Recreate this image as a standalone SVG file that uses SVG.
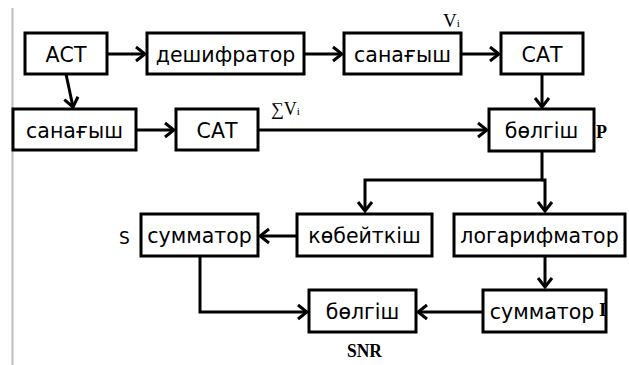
<svg xmlns="http://www.w3.org/2000/svg" width="629" height="365" viewBox="0 0 629 365">
<defs>
<style>
.box{fill:#fff;stroke:#000;stroke-width:3}
.t{font-family:"DejaVu Sans","Verdana",sans-serif;font-size:20.5px;text-anchor:middle;fill:#000}
.c{fill:none;stroke:#000;stroke-width:3}
.s{font-family:"Liberation Serif","Times New Roman",serif;fill:#000}
</style>
<marker id="a" viewBox="-12 -9 14 18" refX="0" refY="0" markerWidth="14" markerHeight="18" markerUnits="userSpaceOnUse" orient="auto">
<path d="M-9,-7 L0,0 L-9,7" fill="none" stroke="#000" stroke-width="3" stroke-linejoin="miter"/>
</marker>
</defs>
<rect width="629" height="365" fill="#fff"/>
<line x1="12.5" y1="8" x2="12.5" y2="365" stroke="#c0bcb8" stroke-width="2"/>

<g id="connectors">
<line class="c" x1="107" y1="54" x2="145" y2="54" marker-end="url(#a)"/>
<line class="c" x1="304" y1="54" x2="342" y2="54" marker-end="url(#a)"/>
<line class="c" x1="461" y1="54" x2="499" y2="54" marker-end="url(#a)"/>
<line class="c" x1="66" y1="74" x2="73" y2="107" marker-end="url(#a)"/>
<line class="c" x1="136" y1="130" x2="174" y2="130" marker-end="url(#a)"/>
<line class="c" x1="258" y1="130" x2="487" y2="130" marker-end="url(#a)"/>
<line class="c" x1="542" y1="74" x2="542" y2="107" marker-end="url(#a)"/>
<polyline class="c" points="542,151 542,180 365,180 365,211" marker-end="url(#a)"/>
<polyline class="c" points="542,180 545,180 545,211" marker-end="url(#a)"/>
<line class="c" x1="297" y1="236" x2="260" y2="236" marker-end="url(#a)"/>
<polyline class="c" points="200,256 200,312 307,312" marker-end="url(#a)"/>
<line class="c" x1="545" y1="256" x2="545" y2="287" marker-end="url(#a)"/>
<line class="c" x1="483" y1="312" x2="418" y2="312" marker-end="url(#a)"/>
</g>

<g id="ast"><rect class="box" x="25" y="33" width="82" height="41"/><text class="t" x="66" y="62">АСТ</text></g>
<g id="deshifrator"><rect class="box" x="147" y="33" width="157" height="41"/><text class="t" x="225.5" y="62">дешифратор</text></g>
<g id="sanagysh1"><rect class="box" x="344" y="33" width="117" height="41"/><text class="t" x="402.5" y="62">санағыш</text></g>
<g id="sat1"><rect class="box" x="501" y="33" width="82" height="41"/><text class="t" x="542" y="62">САТ</text></g>
<g id="sanagysh2"><rect class="box" x="13" y="109" width="123" height="41"/><text class="t" x="74.5" y="138">санағыш</text></g>
<g id="sat2"><rect class="box" x="176" y="109" width="82" height="41"/><text class="t" x="217" y="138">САТ</text></g>
<g id="bolgish1"><rect class="box" x="489" y="109" width="105" height="42"/><text class="t" x="541.5" y="138">бөлгіш</text></g>
<g id="summator1"><rect class="box" x="141" y="214" width="117" height="42"/><text class="t" x="199.5" y="243">сумматор</text></g>
<g id="kobeitkish"><rect class="box" x="297" y="214" width="135" height="42"/><text class="t" x="364.5" y="243">көбейткіш</text></g>
<g id="logarifmator"><rect class="box" x="454" y="214" width="171" height="42"/><text class="t" x="539.5" y="243">логарифматор</text></g>
<g id="bolgish2"><rect class="box" x="309" y="290" width="107" height="42"/><text class="t" x="362.5" y="319">бөлгіш</text></g>
<g id="summator2"><rect class="box" x="483" y="290" width="123" height="42"/><text class="t" x="542" y="319">сумматор</text></g>

<g id="labels">
<text class="s" x="443" y="27" font-size="19">V<tspan font-size="11">i</tspan></text>
<text class="s" x="271" y="115" font-size="18">∑V<tspan font-size="11">i</tspan></text>
<text class="s" x="596" y="138" font-size="18" font-weight="bold">P</text>
<text x="119" y="244" font-family="DejaVu Sans, sans-serif" font-size="17">S</text>
<text class="s" x="599" y="316" font-size="19" font-weight="bold">I</text>
<text class="s" x="347" y="357" font-size="19" font-weight="bold" textLength="35" lengthAdjust="spacingAndGlyphs">SNR</text>
</g>
</svg>
